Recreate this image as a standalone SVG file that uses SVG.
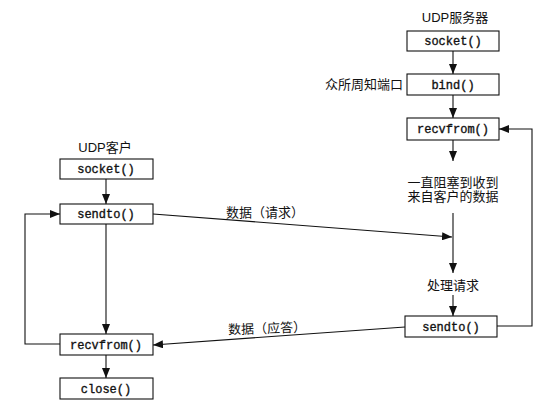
<svg xmlns="http://www.w3.org/2000/svg" width="545" height="404" viewBox="0 0 545 404">
<style>
.box{fill:#fff;stroke:#111;stroke-width:1.1}
.fn{font-family:"Liberation Mono","DejaVu Sans Mono",monospace;font-size:12px;font-weight:normal;fill:#111;stroke:#111;stroke-width:0.35;text-anchor:middle}
.lb{font-family:"Liberation Sans","Noto Sans CJK SC",sans-serif;font-size:13px;fill:#111}
.ln{fill:none;stroke:#111;stroke-width:1.1}
</style>
<defs>
<marker id="ah" viewBox="0 0 10 8" refX="10" refY="4" markerWidth="10" markerHeight="8" markerUnits="userSpaceOnUse" orient="auto">
<path d="M0,0 L10,4 L0,8 Z" fill="#111"/>
</marker>
</defs>
<rect width="545" height="404" fill="#fff"/>

<g id="connectors">
<line class="ln" x1="453" y1="51" x2="453" y2="74" marker-end="url(#ah)"/>
<line class="ln" x1="453" y1="95" x2="453" y2="118" marker-end="url(#ah)"/>
<line class="ln" x1="453" y1="140" x2="453" y2="161" marker-end="url(#ah)"/>
<line class="ln" x1="453" y1="213" x2="453" y2="273" marker-end="url(#ah)"/>
<line class="ln" x1="453" y1="295" x2="453" y2="316" marker-end="url(#ah)"/>
<polyline class="ln" points="497,326 532,326 532,129 499,129" marker-end="url(#ah)"/>
<line class="ln" x1="106" y1="179" x2="106" y2="204" marker-end="url(#ah)"/>
<line class="ln" x1="106" y1="224" x2="106" y2="334" marker-end="url(#ah)"/>
<line class="ln" x1="106" y1="355" x2="106" y2="378" marker-end="url(#ah)"/>
<polyline class="ln" points="60,344 25,344 25,214 60,214" marker-end="url(#ah)"/>
<line class="ln" x1="153" y1="214" x2="452" y2="237" marker-end="url(#ah)"/>
<line class="ln" x1="405" y1="327" x2="153" y2="345" marker-end="url(#ah)"/>
<text class="lb" x="265" y="217" text-anchor="middle">数据（请求）</text>
<text class="lb" x="267" y="333" text-anchor="middle" transform="rotate(-2 267 328)">数据（应答）</text>
</g>

<g id="server-title"><text class="lb" x="455" y="22" text-anchor="middle">UDP服务器</text></g>
<g id="server-socket"><rect class="box" x="407" y="31" width="92" height="20"/><text class="fn" x="453" y="45">socket()</text></g>
<g id="server-bind"><rect class="box" x="407" y="74" width="92" height="21"/><text class="lb" x="403" y="89" text-anchor="end">众所周知端口</text><text class="fn" x="453" y="89">bind()</text></g>
<g id="server-recvfrom"><rect class="box" x="407" y="118" width="92" height="22"/><text class="fn" x="453" y="133">recvfrom()</text></g>
<g id="server-block"><text class="lb" x="453" y="187" text-anchor="middle">一直阻塞到收到</text><text class="lb" x="453" y="201" text-anchor="middle">来自客户的数据</text></g>
<g id="server-process"><text class="lb" x="453" y="290" text-anchor="middle">处理请求</text></g>
<g id="server-sendto"><rect class="box" x="405" y="316" width="92" height="21"/><text class="fn" x="451" y="331">sendto()</text></g>

<g id="client-title"><text class="lb" x="105" y="152" text-anchor="middle">UDP客户</text></g>
<g id="client-socket"><rect class="box" x="60" y="159" width="93" height="20"/><text class="fn" x="106" y="173">socket()</text></g>
<g id="client-sendto"><rect class="box" x="60" y="204" width="93" height="20"/><text class="fn" x="106" y="218">sendto()</text></g>
<g id="client-recvfrom"><rect class="box" x="60" y="334" width="93" height="21"/><text class="fn" x="106" y="349">recvfrom()</text></g>
<g id="client-close"><rect class="box" x="60" y="378" width="93" height="21"/><text class="fn" x="106" y="393">close()</text></g>
</svg>
